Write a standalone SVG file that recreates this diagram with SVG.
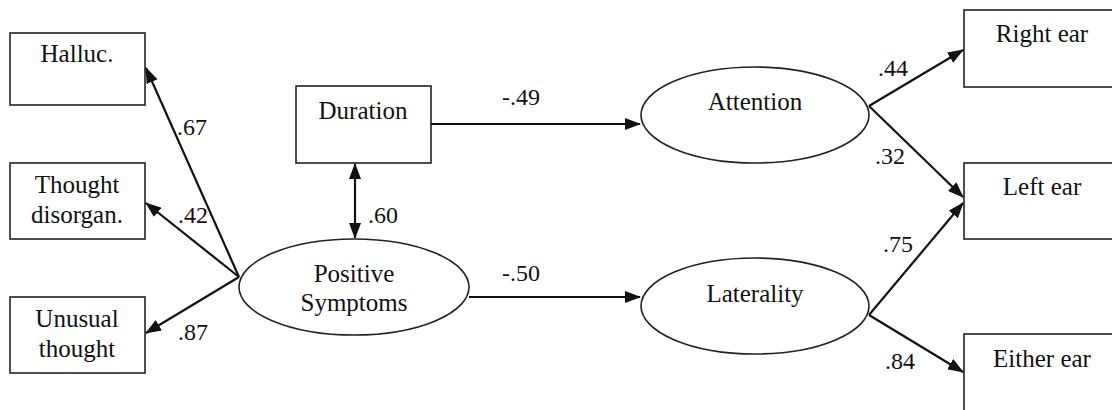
<svg xmlns="http://www.w3.org/2000/svg" width="1112" height="410" viewBox="0 0 1112 410">
<style>
.box{fill:#fff;stroke:#222;stroke-width:1.6}
.ell{fill:#fff;stroke:#222;stroke-width:1.6}
.t{font-family:'Liberation Serif','Times New Roman',serif;font-size:25px;fill:#111;text-anchor:middle}
.l{font-family:'Liberation Serif','Times New Roman',serif;font-size:24px;fill:#111}
.c{fill:none;stroke:#111;stroke-width:2.2}
</style>
<defs>
<marker id="ah" markerUnits="userSpaceOnUse" markerWidth="16" markerHeight="12" refX="15" refY="6" orient="auto">
<path d="M0,0 L16,6 L0,12 Z" fill="#111"/>
</marker>
<marker id="as" markerUnits="userSpaceOnUse" markerWidth="16" markerHeight="12" refX="1" refY="6" orient="auto">
<path d="M16,0 L0,6 L16,12 Z" fill="#111"/>
</marker>
</defs>
<rect width="1112" height="410" fill="#fff"/>
<g id="halluc"><rect class="box" x="10" y="33" width="135" height="72"/><text class="t" x="77" y="62">Halluc.</text></g>
<g id="thought-disorgan"><rect class="box" x="10" y="163" width="135" height="76"/><text class="t" x="77" y="193">Thought</text><text class="t" x="77" y="223">disorgan.</text></g>
<g id="unusual-thought"><rect class="box" x="10" y="297" width="135" height="76"/><text class="t" x="77" y="327">Unusual</text><text class="t" x="77" y="357">thought</text></g>
<g id="duration"><rect class="box" x="296" y="86" width="135" height="77"/><text class="t" x="363" y="119">Duration</text></g>
<g id="positive-symptoms"><ellipse class="ell" cx="354" cy="287" rx="115" ry="48"/><text class="t" x="354" y="282">Positive</text><text class="t" x="354" y="311">Symptoms</text></g>
<g id="attention"><ellipse class="ell" cx="755" cy="115" rx="114" ry="48"/><text class="t" x="755" y="110">Attention</text></g>
<g id="laterality"><ellipse class="ell" cx="755" cy="306" rx="114" ry="48"/><text class="t" x="755" y="302">Laterality</text></g>
<g id="right-ear"><rect class="box" x="964" y="10" width="160" height="77"/><text class="t" x="1042" y="42">Right ear</text></g>
<g id="left-ear"><rect class="box" x="964" y="163" width="160" height="76"/><text class="t" x="1042" y="195">Left ear</text></g>
<g id="either-ear"><rect class="box" x="964" y="334" width="160" height="90"/><text class="t" x="1042" y="367">Either ear</text></g>
<g id="connectors">
<line class="c" x1="239" y1="277" x2="146" y2="68" marker-end="url(#ah)"/>
<line class="c" x1="239" y1="277" x2="146" y2="203" marker-end="url(#ah)"/>
<line class="c" x1="239" y1="277" x2="146" y2="333" marker-end="url(#ah)"/>
<line class="c" x1="355" y1="164" x2="355" y2="238" marker-start="url(#as)" marker-end="url(#ah)"/>
<line class="c" x1="431" y1="124" x2="640" y2="124" marker-end="url(#ah)"/>
<line class="c" x1="469" y1="297" x2="640" y2="297" marker-end="url(#ah)"/>
<line class="c" x1="869" y1="106" x2="963" y2="50" marker-end="url(#ah)"/>
<line class="c" x1="869" y1="106" x2="963" y2="197" marker-end="url(#ah)"/>
<line class="c" x1="869" y1="315" x2="963" y2="203" marker-end="url(#ah)"/>
<line class="c" x1="869" y1="315" x2="963" y2="372" marker-end="url(#ah)"/>
<text class="l" x="177" y="135">.67</text>
<text class="l" x="178" y="223">.42</text>
<text class="l" x="178" y="340">.87</text>
<text class="l" x="368" y="223">.60</text>
<text class="l" x="502" y="105">-.49</text>
<text class="l" x="502" y="281">-.50</text>
<text class="l" x="878" y="76">.44</text>
<text class="l" x="875" y="164">.32</text>
<text class="l" x="883" y="252">.75</text>
<text class="l" x="885" y="369">.84</text>
</g>
</svg>
